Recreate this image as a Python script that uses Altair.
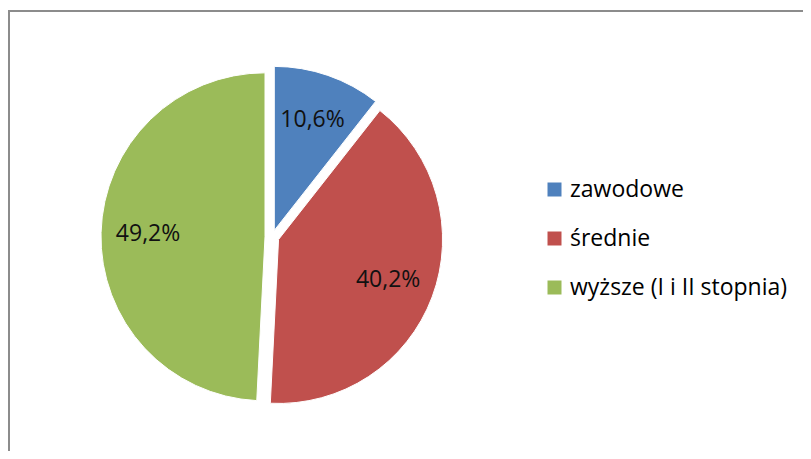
import altair as alt
import pandas as pd

categories = ["zawodowe", "średnie", "wyższe (I i II stopnia)"]
values = [10.6, 40.2, 49.2]
labels = ["10,6%", "40,2%", "49,2%"]
colors = ["#4F81BD", "#C0504D", "#9BBB59"]

df = pd.DataFrame({
    "cat": categories,
    "val": values,
    "lab": labels,
    "order": list(range(len(categories))),
})

W, H = 795, 443
CX, CY = 264, 229   # pie centre (layout)
R = 164             # pie radius
E = 7               # explode distance
RL = 117            # label radius
FONT = "Open Sans"

base = alt.Chart(df).transform_joinaggregate(
    total="sum(val)"
).transform_window(
    cum="sum(val)", sort=[alt.SortField("order")], frame=[None, 0]
).transform_calculate(
    start="2*PI*(datum.cum - datum.val)/datum.total",
    end="2*PI*datum.cum/datum.total",
).transform_calculate(
    mid="(datum.start + datum.end)/2",
).transform_calculate(
    px=f"{CX} + {E}*sin(datum.mid)",
    py=f"{CY} - {E}*cos(datum.mid)",
).transform_calculate(
    lx=f"datum.px + {RL}*sin(datum.mid)",
    ly=f"datum.py - {RL}*cos(datum.mid)",
)

arcs = base.mark_arc(radius=R, stroke="white", strokeWidth=1).encode(
    theta=alt.Theta("start:Q", scale=None),
    theta2=alt.Theta2("end:Q"),
    x=alt.X("px:Q", scale=None, axis=None),
    y=alt.Y("py:Q", scale=None, axis=None),
    color=alt.Color(
        "cat:N",
        scale=alt.Scale(domain=categories, range=colors),
        sort=categories,
        legend=alt.Legend(
            title=None,
            orient="none",
            legendX=535,
            legendY=170,
            symbolType="square",
            symbolSize=196,
            symbolStrokeWidth=0,
            labelFont=FONT,
            labelFontSize=23,
            labelColor="#000000",
            labelOffset=4,
            rowPadding=25,
            labelLimit=400,
            padding=0,
        ),
    ),
)

texts = base.mark_text(font=FONT, fontSize=23, color="#111111",
                       align="center", baseline="middle").encode(
    x=alt.X("lx:Q", scale=None, axis=None),
    y=alt.Y("ly:Q", scale=None, axis=None),
    text="lab:N",
)

frame_left = alt.Chart(df).mark_rule(color="#8c8c8c", strokeWidth=2).encode(
    x=alt.value(1), y=alt.value(3), y2=alt.value(H)
)
frame_top = alt.Chart(df).mark_rule(color="#8c8c8c", strokeWidth=2).encode(
    x=alt.value(0), x2=alt.value(W), y=alt.value(3)
)

chart = alt.layer(arcs, texts, frame_left, frame_top).properties(
    width=W, height=H, padding=0, autosize=alt.AutoSizeParams(type="none"),
    background="white",
).configure_view(strokeWidth=0)

chart.save("out.html", embed_options={"renderer": "svg", "actions": False})
